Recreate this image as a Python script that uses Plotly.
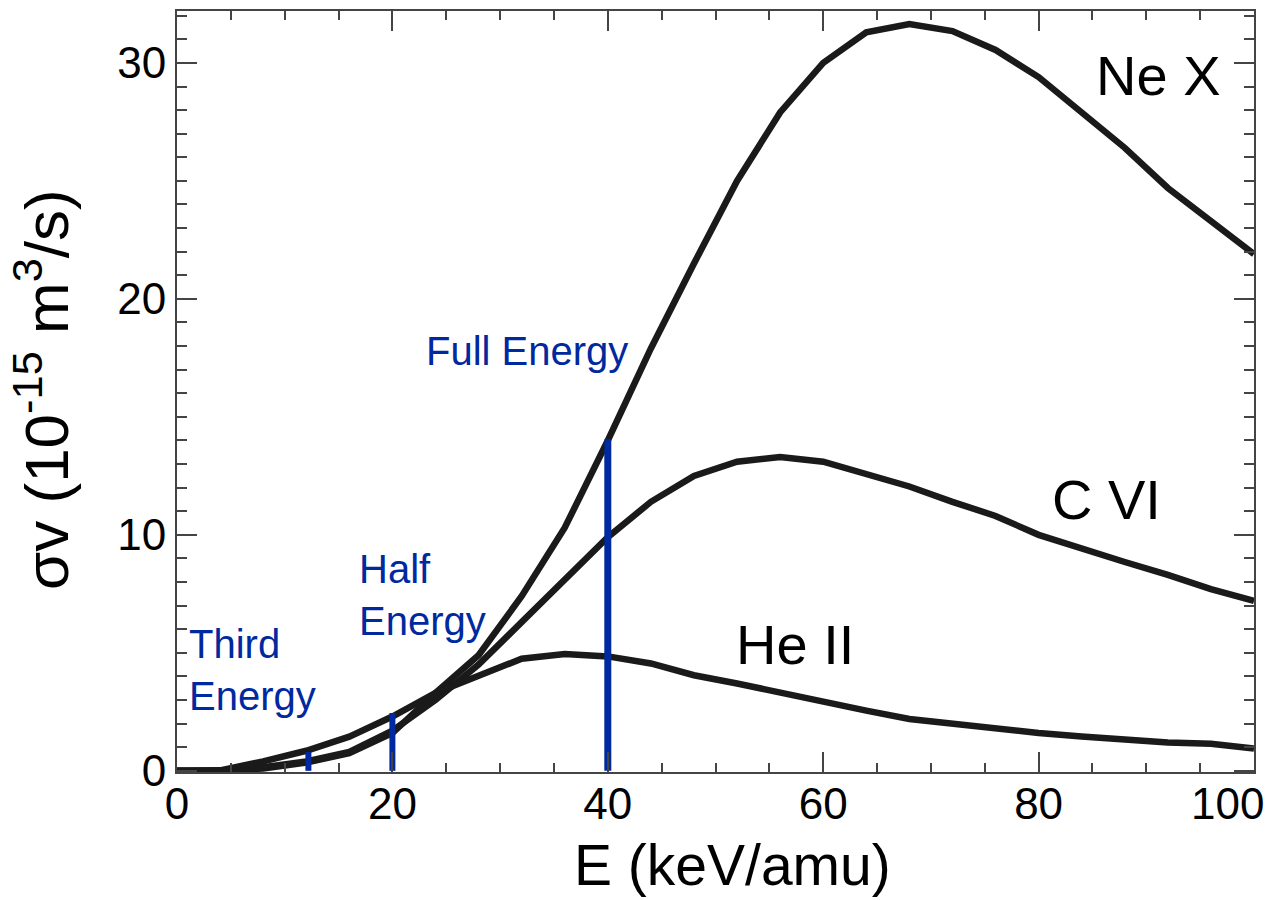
import plotly.graph_objects as go

# Energy grid (keV/amu)
energy = [0, 4, 8, 12, 16, 20, 24, 28, 32, 36, 40, 44, 48, 52, 56, 60, 64, 68, 72, 76, 80, 84, 88, 92, 96, 100]

# sigma*v (1e-15 m^3/s)
ne_x = [0, 0, 0.1, 0.35, 0.75, 1.6, 3.3, 4.9, 7.4, 10.3, 14.0, 17.9, 21.5, 25.0, 27.9, 30.0,
        31.3, 31.65, 31.35, 30.55, 29.4, 27.9, 26.4, 24.7, 23.3, 21.9]
c_vi = [0, 0, 0.15, 0.4, 0.8, 1.7, 3.0, 4.5, 6.3, 8.1, 9.9, 11.4, 12.5, 13.1, 13.3, 13.1,
        12.6, 12.05, 11.4, 10.8, 10.0, 9.4, 8.85, 8.3, 7.7, 7.2]
he_ii = [0, 0.02, 0.4, 0.85, 1.45, 2.3, 3.3, 4.0, 4.75, 4.95, 4.85, 4.55, 4.05, 3.7, 3.3, 2.9,
         2.55, 2.2, 2.0, 1.75, 1.6, 1.45, 1.3, 1.2, 1.15, 0.95]

# Beam energy components
beam_names = ["Third<br>Energy", "Half<br>Energy", "Full Energy"]
beam_energy = [12.2, 20, 40]
beam_height = [0.8, 2.45, 14.05]

x_ticks = [0, 20, 40, 60, 80, 100]
x_ticktext = ["0", "20", "40", "60", "80", ""]   # last label drawn inside the page edge below
last_x_label = "100"
y_ticks = [0, 10, 20, 30]

BLACK = "#1a1a1a"
BLUE = "#00299F"
FONT = "Liberation Sans, Arial, sans-serif"

fig = go.Figure()
for ys in (ne_x, c_vi, he_ii):
    fig.add_trace(go.Scatter(x=energy, y=ys, mode="lines",
                             line=dict(color=BLACK, width=6.5), showlegend=False))

for xv, h, w in zip(beam_energy, beam_height, [6, 6, 7]):
    fig.add_trace(go.Scatter(x=[xv, xv], y=[0, h], mode="lines",
                             line=dict(color=BLUE, width=w), showlegend=False))

labels = [
    ("Ne X", 91.1, 29.45),
    ("C VI", 86.3, 11.5),
    ("He II", 57.4, 5.34),
]
for t, x, y in labels:
    fig.add_annotation(x=x, y=y, text=t, showarrow=False, xanchor="center", yanchor="middle",
                       font=dict(family=FONT, size=56, color="black"))

blue_pos = [(0.93, 4.28, "left"), (16.7, 7.46, "left"), (32.5, 17.8, "center")]
for t, (x, y, a) in zip(beam_names, blue_pos):
    fig.add_annotation(x=x, y=y, text=t, showarrow=False, xanchor=a, yanchor="middle",
                       align="left", font=dict(family=FONT, size=40, color=BLUE))

# last x tick label, kept inside the page like the reference
fig.add_annotation(x=x_ticks[-1], yref="paper", y=-(804 - 772) / 761, text=last_x_label,
                   showarrow=False, xanchor="right", yanchor="middle", xshift=12,
                   font=dict(family=FONT, size=44, color="black"))

# axis titles
fig.add_annotation(xref="paper", yref="paper", x=(732 - 177) / 1077, y=-(865 - 772) / 761,
                   text="E (keV/amu)", showarrow=False, xanchor="center", yanchor="middle",
                   font=dict(family=FONT, size=57, color="black"))
fig.add_annotation(xref="paper", yref="paper", x=-(177 - 42) / 1077, y=(772 - 390) / 761,
                   text="σv (10<sup>-15</sup> m<sup>3</sup>/s)", textangle=-90,
                   showarrow=False, xanchor="center", yanchor="middle",
                   font=dict(family=FONT, size=62, color="black"))

axis_common = dict(showline=True, linecolor="#444", linewidth=2, mirror="ticks",
                   ticks="inside", ticklen=20, tickwidth=1.5, tickcolor="#444",
                   showgrid=False, zeroline=False, automargin=False,
                   tickfont=dict(family=FONT, size=44, color="black"))

fig.update_xaxes(range=[0, 100], tickvals=x_ticks, ticktext=x_ticktext, ticklabelstandoff=-8,
                 minor=dict(ticks="inside", dtick=5, ticklen=9, tickcolor="#444", showgrid=False),
                 **axis_common)
fig.update_yaxes(range=[-0.05, 32.2], tickvals=y_ticks,
                 minor=dict(ticks="inside", dtick=1, ticklen=10, tickcolor="#444", showgrid=False),
                 **axis_common)

fig.update_layout(width=1277, height=900, margin=dict(l=177, r=23, t=11, b=128, autoexpand=False),
                  plot_bgcolor="white", paper_bgcolor="white")

fig.write_html("out.html")
